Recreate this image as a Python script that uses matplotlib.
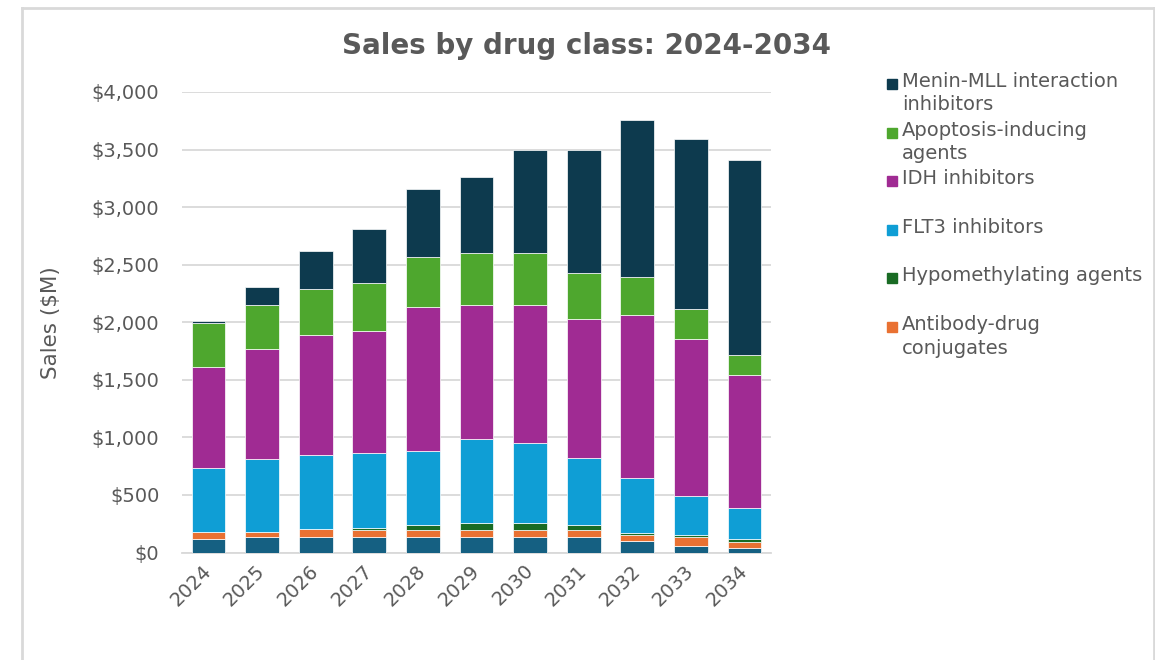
import matplotlib
matplotlib.use("Agg")
import matplotlib.pyplot as plt
from matplotlib.lines import Line2D
from matplotlib.patches import Rectangle
import numpy as np

# Данные: продажи по классам препаратов ($M)
years = ["2024", "2025", "2026", "2027", "2028", "2029", "2030", "2031", "2032", "2033", "2034"]

other = [115, 132, 132, 132, 132, 132, 132, 132, 97, 59, 42]          # нижний сегмент, без подписи в легенде
adc = [66, 49, 70, 64, 64, 64, 64, 64, 53, 73, 52]
hypomethylating = [0, 0, 0, 20, 41, 58, 58, 41, 17, 18, 21]
flt3 = [557, 630, 644, 647, 644, 728, 693, 588, 484, 342, 275]
idh = [874, 957, 1044, 1062, 1253, 1166, 1201, 1201, 1410, 1360, 1149]
apoptosis = [383, 380, 401, 418, 435, 453, 453, 401, 331, 265, 174]
menin = [17, 160, 330, 464, 592, 664, 893, 1067, 1363, 1479, 1692]

series = [
    (None, other, "#156082"),
    ("Antibody-drug\nconjugates", adc, "#E97132"),
    ("Hypomethylating agents", hypomethylating, "#196B24"),
    ("FLT3 inhibitors", flt3, "#0F9ED5"),
    ("IDH inhibitors", idh, "#A02B93"),
    ("Apoptosis-inducing\nagents", apoptosis, "#4EA72E"),
    ("Menin-MLL interaction\ninhibitors", menin, "#0D3A4E"),
]

grey = "#595959"
W, H = 1155, 660

fig = plt.figure(figsize=(W / 100, H / 100), dpi=100)
ax = fig.add_axes([181.7 / W, (H - 552.5) / H, (771.3 - 181.7) / W, (552.5 - 92) / H])

x = np.arange(len(years))
bottom = np.zeros(len(years))
for label, vals, color in series:
    ax.bar(x, vals, 0.63, bottom=bottom, color=color, edgecolor="white", linewidth=0.5, zorder=3)
    bottom += np.array(vals)

ax.set_xlim(-0.5, len(years) - 0.5)
ax.set_ylim(0, 4000)
ax.set_yticks(np.arange(0, 4001, 500))
ax.yaxis.set_major_formatter(matplotlib.ticker.FuncFormatter(lambda v, p: "${:,.0f}".format(v)))
ax.grid(axis="y", color="#d9d9d9", linewidth=1.3, zorder=0)
for s in ["top", "right", "left"]:
    ax.spines[s].set_visible(False)
ax.spines["bottom"].set_color("#d9d9d9")
ax.spines["bottom"].set_linewidth(1.3)

ax.set_xticks(x)
ax.set_xticklabels(years, rotation=45, ha="right", va="center", rotation_mode="anchor")
ax.tick_params(axis="both", length=0, labelsize=14, labelcolor=grey)
ax.tick_params(axis="y", pad=16)
ax.tick_params(axis="x", pad=11)

ax.set_ylabel("Sales ($M)", fontsize=15.5, color=grey, labelpad=22)

fig.text(587 / W, 1 - 46 / H, "Sales by drug class: 2024-2034", ha="center", va="center",
         fontsize=20, fontweight="bold", color=grey)

# легенда вручную, как в Excel
for i, (label, vals, color) in enumerate(reversed(series[1:])):
    yc = 84 + i * 48.6
    fig.add_artist(Rectangle((887 / W, 1 - (yc + 5) / H), 10 / W, 10 / H,
                             transform=fig.transFigure, color=color))
    fig.text(902 / W, 1 - (yc - 12) / H, label, ha="left", va="top",
             fontsize=14, color=grey, linespacing=1.3)

# рамка
line_kw = dict(color="#d9d9d9", linewidth=2, transform=fig.transFigure)
fig.add_artist(Line2D([22 / W, 22 / W], [0, 1 - 8 / H], **line_kw))
fig.add_artist(Line2D([22 / W, 1154 / W], [1 - 8 / H, 1 - 8 / H], **line_kw))
fig.add_artist(Line2D([1154 / W, 1154 / W], [0, 1 - 8 / H], **line_kw))

fig.savefig("out.png", dpi=100)
